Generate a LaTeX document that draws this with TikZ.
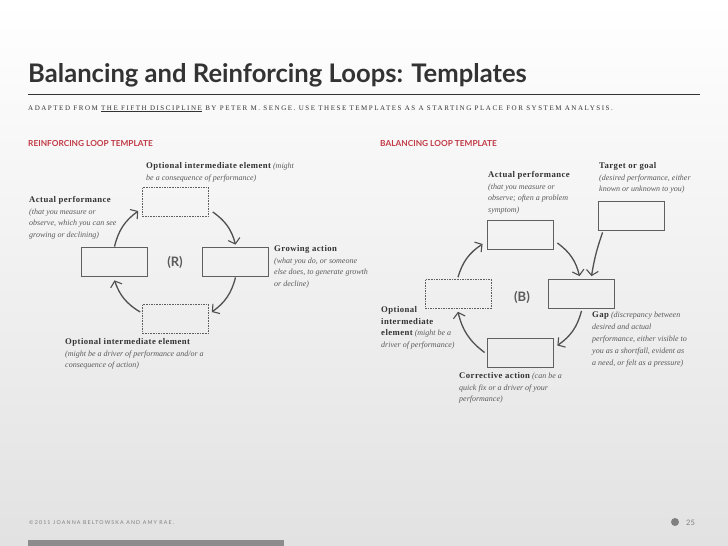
\documentclass[tikz,border=0pt]{standalone}
\usepackage{fontspec}
\setmainfont{Liberation Serif}
\newfontfamily\latofont{Lato}
\newfontfamily\spacedfont[LetterSpace=22]{Liberation Serif}
\newfontfamily\footfont[LetterSpace=22]{Lato}
\newfontfamily\headfont[LetterSpace=5]{Liberation Serif}
\usepackage{tikz}
\usetikzlibrary{arrows.meta, positioning, calc}

\definecolor{headred}{RGB}{193, 58, 70}
\definecolor{inkgray}{RGB}{51, 51, 51}
\definecolor{notegray}{RGB}{90, 90, 90}
\definecolor{arrowgray}{RGB}{80, 80, 80}
\definecolor{boxgray}{RGB}{95, 95, 95}
\definecolor{bggray}{RGB}{226, 226, 226}

\newcommand{\notehead}[1]{{\headfont\upshape\bfseries\fontsize{8.7}{11.8}\selectfont\color{inkgray}#1}}

\begin{document}
\begin{tikzpicture}[x=1pt, y=1pt,
    solidbox/.style={draw=boxgray, line width=0.8pt, minimum width=66pt, minimum height=29pt, inner sep=0pt},
    dashbox/.style={solidbox, line width=0.6pt, dash pattern=on 1.6pt off 1pt},
    loopline/.style={draw=arrowgray, line width=1.3pt, -{Straight Barb[length=5pt, width=12pt, line width=1.1pt]}},
    note/.style={anchor=north west, inner sep=0pt, align=left, text=notegray, font=\itshape\fontsize{8}{11.8}\selectfont},
    looplabel/.style={font=\latofont\bfseries\fontsize{13}{15}\selectfont, text=notegray},
    section/.style={anchor=base west, inner sep=0pt, text=headred, font=\latofont\bfseries\fontsize{8.3}{10}\selectfont}]
    % Page
    \shade[top color=white, bottom color=bggray] (0,0) rectangle (728,-546);
    \node[anchor=base west, inner sep=0pt, text=inkgray, font=\latofont\bfseries\fontsize{25.6}{30}\selectfont] (title) at (28,-82) {Balancing and Reinforcing Loops: Templates};
    \draw[inkgray, line width=1pt] (28,-94) -- (700,-94);
    \node[anchor=base west, inner sep=0pt, text=inkgray, font=\spacedfont\fontsize{7}{8}\selectfont] (subtitle) at (28,-110) {ADAPTED FROM \underline{THE FIFTH DISCIPLINE} BY PETER M. SENGE. USE THESE TEMPLATES AS A STARTING PLACE FOR SYSTEM ANALYSIS.};
    \node[section] (rhead) at (28,-146) {REINFORCING LOOP TEMPLATE};
    \node[section] (bhead) at (380,-146) {BALANCING LOOP TEMPLATE};

    % Reinforcing loop boxes
    \node[dashbox] (rtop) at (175.5,-202) {};
    \node[solidbox] (rleft) at (114.5,-261.5) {};
    \node[solidbox] (rright) at (235.5,-261.5) {};
    \node[dashbox] (rbot) at (175.5,-319) {};
    \node[looplabel] (rmark) at (175,-262) {(R)};

    % Reinforcing loop arrows
    \draw[loopline] (rleft.north) to[bend left=20] ([xshift=-4pt,yshift=-9pt]rtop.west);
    \draw[loopline] ([xshift=4pt,yshift=-10pt]rtop.east) to[bend left=20] ([yshift=2pt]rright.north);
    \draw[loopline] ([yshift=-1pt]rright.south) to[bend left=20] ([xshift=3pt,yshift=7pt]rbot.east);
    \draw[loopline] ([xshift=-2pt,yshift=7pt]rbot.west) to[bend left=20] ([yshift=-4pt]rleft.south);

    % Reinforcing loop notes
    \node[note] (rtopnote) at (146,-162) {\notehead{Optional intermediate element} (might\\be a consequence of performance)};
    \node[note] (rleftnote) at (29,-196) {\notehead{Actual performance}\\(that you measure or\\observe, which you can see\\growing or declining)};
    \node[note] (rrightnote) at (274,-245) {\notehead{Growing action}\\(what you do, or someone\\else does, to generate growth\\or decline)};
    \node[note] (rbotnote) at (65,-338) {\notehead{Optional intermediate element}\\(might be a driver of performance and/or a\\consequence of action)};

    % Balancing loop boxes
    \node[solidbox] (bact) at (520,-235) {};
    \node[solidbox] (bgoal) at (631,-215.5) {};
    \node[dashbox] (bopt) at (458,-294) {};
    \node[solidbox] (bgap) at (581.5,-294) {};
    \node[solidbox] (bcor) at (520,-352.5) {};
    \node[looplabel] (bmark) at (522,-297) {(B)};

    % Balancing loop arrows
    \draw[loopline] ([yshift=2pt]bopt.north) to[bend left=20] ([xshift=-4pt,yshift=-9pt]bact.west);
    \draw[loopline] ([xshift=4pt,yshift=-8pt]bact.east) to[bend left=20] ([xshift=-2pt,yshift=3pt]bgap.north);
    \draw[loopline] ([xshift=5pt,yshift=-2pt]bgoal.south west) to[bend right=5] ([xshift=10pt,yshift=3pt]bgap.north);
    \draw[loopline] ([yshift=-2pt]bgap.south) to[bend left=20] ([xshift=4pt,yshift=7pt]bcor.east);
    \draw[loopline] ([xshift=-2pt]bcor.west) to[bend left=20] ([yshift=-3pt]bopt.south);

    % Balancing loop notes
    \node[note] (bactnote) at (488,-171) {\notehead{Actual performance}\\(that you measure or\\observe; often a problem\\symptom)};
    \node[note] (bgoalnote) at (599,-162) {\notehead{Target or goal}\\(desired performance, either\\known or unknown to you)};
    \node[note] (boptnote) at (381,-306) {\notehead{Optional}\\\notehead{intermediate}\\\notehead{element} (might be a\\driver of performance)};
    \node[note] (bgapnote) at (592,-312) {\notehead{Gap} (discrepancy between\\desired and actual\\performance, either visible to\\you as a shortfall, evident as\\a need, or felt as a pressure)};
    \node[note] (bcornote) at (459,-372) {\notehead{Corrective action} (can be a\\quick fix or a driver of your\\performance)};

    % Footer
    \node[anchor=base west, inner sep=0pt, text=gray, font=\footfont\fontsize{5.3}{6}\selectfont] (credit) at (29,-524) {©2011 JOANNA BELTOWSKA AND AMY RAE.};
    \fill[gray] (675,-522) circle (4);
    \node[anchor=base west, inner sep=0pt, text=gray, font=\latofont\fontsize{7.5}{9}\selectfont] (pagenum) at (686,-525) {25};
    \fill[gray!90] (28,-540) rectangle (284,-546);
\end{tikzpicture}
\end{document}
